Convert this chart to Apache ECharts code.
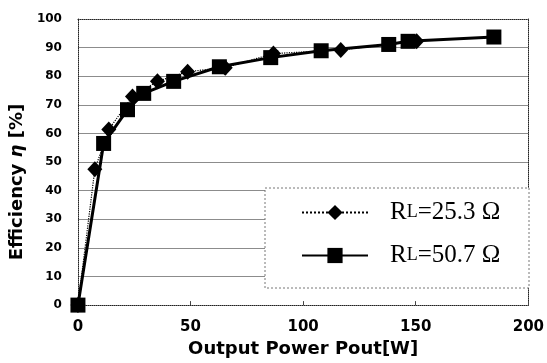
<!DOCTYPE html>
<html>
<head>
<meta charset="utf-8">
<script src="https://cdn.jsdelivr.net/npm/echarts@6/dist/echarts.min.js"></script>
<style>
  html, body { margin: 0; padding: 0; background: #fff; }
  #chart { width: 547px; height: 363px; }
</style>
</head>
<body>
<div id="chart"></div>
<script>
// ---- data ----
const xTicks = [0, 50, 100, 150, 200];
const yTicks = [0, 10, 20, 30, 40, 50, 60, 70, 80, 90, 100];
const seriesNames = ['RL=25.3 Ω', 'RL=50.7 Ω'];
// RL = 25.3 Ω (diamonds, dotted line)
const diamondPout = [0, 7.5, 13.7, 24.2, 35.3, 48.7, 65.4, 86.8, 116.7, 150.4];
const diamondEff  = [0, 47.5, 61.4, 72.9, 78.2, 81.6, 83.0, 87.9, 89.2, 92.2];
// RL = 50.7 Ω (squares, solid line)
const squarePout = [0, 11.4, 22.0, 29.2, 42.5, 62.8, 85.6, 108.0, 138.0, 146.6, 184.7];
const squareEff  = [0, 56.5, 68.3, 74.0, 78.2, 83.3, 86.5, 88.9, 91.1, 92.2, 93.7];

const pair = (xs, ys) => xs.map((x, i) => [x, ys[i]]);

const chart = echarts.init(document.getElementById('chart'), null, { renderer: 'canvas' });
const axisFont = 'DejaVu Sans';
const gridColors = yTicks.map((v, i) => (i === 0 || i === yTicks.length - 1) ? 'rgba(0,0,0,0)' : '#8c8c8c');

chart.setOption({
  animation: false,
  backgroundColor: '#ffffff',
  grid: { left: 76, right: 10, top: 19, bottom: 53, containLabel: false },
  xAxis: [{
    type: 'value', min: xTicks[0], max: xTicks[xTicks.length - 1], interval: 50,
    position: 'bottom',
    name: 'Output Power Pout[W]', nameLocation: 'middle', nameGap: 29,
    nameTextStyle: { fontFamily: axisFont, fontWeight: 'bold', fontSize: 18, color: '#000' },
    axisLine: { show: true, onZero: false, lineStyle: { color: '#222', width: 1, type: 'dotted' } },
    axisTick: { show: true, inside: true, length: 4, lineStyle: { color: '#444' } },
    axisLabel: { fontFamily: axisFont, fontWeight: 'bold', fontSize: 15, color: '#000', margin: 15 },
    splitLine: { show: false }
  }, {
    type: 'value', min: xTicks[0], max: xTicks[xTicks.length - 1], interval: 50,
    position: 'top',
    axisLine: { show: true, onZero: false, lineStyle: { color: '#222', width: 1, type: 'dotted' } },
    axisTick: { show: false }, axisLabel: { show: false }, splitLine: { show: false }
  }],
  yAxis: [{
    type: 'value', min: yTicks[0], max: yTicks[yTicks.length - 1], interval: 10,
    position: 'left',
    name: 'Efficiency {i|η} [%]', nameLocation: 'middle', nameGap: 50,
    nameTextStyle: {
      fontFamily: axisFont, fontWeight: 'bold', fontSize: 18, color: '#000',
      padding: [0, 40, 0, 0],
      rich: { i: { fontFamily: axisFont, fontWeight: 'bold', fontStyle: 'italic', fontSize: 18, color: '#000' } }
    },
    axisLine: { show: true, onZero: false, lineStyle: { color: '#222', width: 1, type: 'dotted' } },
    axisTick: { show: false },
    axisLabel: { fontFamily: axisFont, fontWeight: 'bold', fontSize: 12, color: '#000', margin: 16 },
    splitLine: { show: true, lineStyle: { color: gridColors, width: 1 } }
  }, {
    type: 'value', min: yTicks[0], max: yTicks[yTicks.length - 1], interval: 10,
    position: 'right',
    axisLine: { show: true, onZero: false, lineStyle: { color: '#222', width: 1, type: 'dotted' } },
    axisTick: { show: false }, axisLabel: { show: false }, splitLine: { show: false }
  }],
  graphic: [{
    type: 'rect', z: 3,
    shape: { x: 265, y: 188, width: 264, height: 100 },
    style: { fill: '#fff', stroke: '#777', lineWidth: 1, lineDash: [2, 2] }
  }],
  legend: {
    z: 6,
    orient: 'vertical', left: 301, top: 200, padding: 0,
    itemWidth: 66, itemHeight: 19, itemGap: 18,
    data: seriesNames,
    formatter: function (name) {
      const m = name.match(/^R(L)(.*)$/);
      return '{r|R}{l|L}{r|' + m[2] + '}';
    },
    textStyle: {
      padding: [0, 0, 0, 17],
      rich: {
        r: { fontFamily: 'Liberation Serif', fontSize: 25, color: '#000', lineHeight: 30 },
        l: { fontFamily: 'Liberation Serif', fontSize: 18, color: '#000', lineHeight: 23 }
      }
    }
  },
  series: [{
    name: seriesNames[0], type: 'line', xAxisIndex: 0, yAxisIndex: 0,
    data: pair(diamondPout, diamondEff),
    symbol: 'diamond', symbolSize: [15, 16],
    itemStyle: { color: '#000' },
    lineStyle: { color: '#000', width: 1.2, type: 'dotted' },
    z: 2
  }, {
    name: seriesNames[1], type: 'line', xAxisIndex: 0, yAxisIndex: 0,
    data: pair(squarePout, squareEff),
    symbol: 'rect', symbolSize: 15,
    itemStyle: { color: '#000' },
    lineStyle: { color: '#000', width: 3, type: 'solid' },
    z: 3
  }]
});
</script>
</body>
</html>
